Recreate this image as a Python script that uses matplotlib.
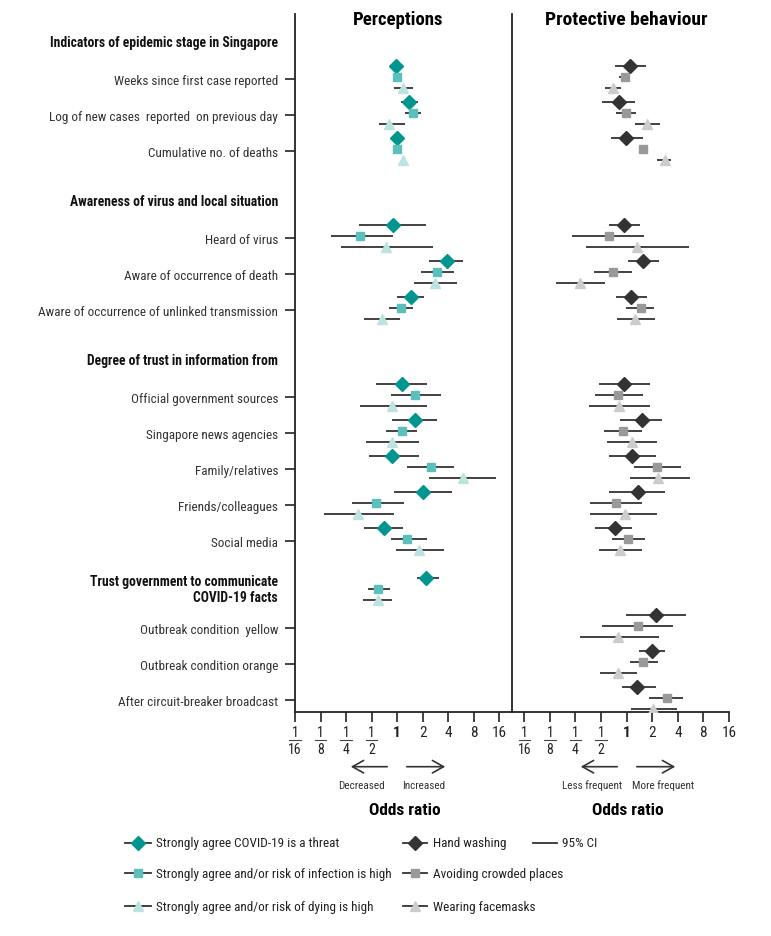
import numpy as np
import matplotlib
matplotlib.use("Agg")
import matplotlib.pyplot as plt
import matplotlib.transforms as mtransforms

plt.rcParams['font.family'] = ['Roboto Condensed', 'Liberation Sans', 'DejaVu Sans']

# ---- rows (header rows have no estimates) ----
rows = [
    ("h", "Indicators of epidemic stage in Singapore"),
    ("i", "Weeks since first case reported"),
    ("i", "Log of new cases  reported  on previous day"),
    ("i", "Cumulative no. of deaths"),
    ("h", "Awareness of virus and local situation"),
    ("i", "Heard of virus"),
    ("i", "Aware of occurrence of death"),
    ("i", "Aware of occurrence of unlinked transmission"),
    ("h", "Degree of trust in information from"),
    ("i", "Official government sources"),
    ("i", "Singapore news agencies"),
    ("i", "Family/relatives"),
    ("i", "Friends/colleagues"),
    ("i", "Social media"),
    ("hi", "Trust government to communicate\nCOVID-19 facts"),
    ("i", "Outbreak condition  yellow"),
    ("i", "Outbreak condition orange"),
    ("i", "After circuit-breaker broadcast"),
]

# ---- Perceptions (odds ratio, lower, upper); None = not estimated ----
# item order: weeks, log new, cum deaths, heard, death, unlinked,
#             official, news, family, friends, social, trust govt, yellow, orange, after CB
threat_or = [0.97, 1.37, 1.01, 0.89, 3.86, 1.44, 1.14, 1.61, 0.88, 2.03, 0.70, 2.20, None, None, None]
threat_lo = [0.83, 1.10, 0.95, 0.36, 2.36, 1.01, 0.56, 0.88, 0.47, 0.92, 0.41, 1.71, None, None, None]
threat_hi = [1.12, 1.77, 1.07, 2.19, 6.06, 2.07, 2.25, 2.93, 1.79, 4.38, 1.17, 3.12, None, None, None]

infect_or = [1.00, 1.55, 0.99, 0.37, 2.95, 1.10, 1.62, 1.13, 2.48, 0.57, 1.30, 0.60, None, None, None]
infect_lo = [0.95, 1.23, 0.94, 0.165, 1.92, 0.81, 0.84, 0.73, 1.30, 0.29, 0.84, 0.45, None, None, None]
infect_hi = [1.05, 1.93, 1.04, 0.90, 4.63, 1.53, 3.25, 1.72, 4.69, 1.22, 2.27, 0.82, None, None, None]

dying_or = [1.17, 0.81, 1.16, 0.73, 2.79, 0.66, 0.87, 0.87, 6.06, 0.35, 1.82, 0.60, None, None, None]
dying_lo = [0.91, 0.61, 1.10, 0.22, 1.60, 0.41, 0.37, 0.43, 2.38, 0.136, 0.97, 0.40, None, None, None]
dying_hi = [1.55, 1.25, 1.22, 2.66, 5.06, 1.07, 2.23, 1.83, 14.8, 0.91, 3.58, 0.88, None, None, None]

# ---- Protective behaviour ----
hand_or = [1.10, 0.81, 0.99, 0.94, 1.57, 1.13, 0.93, 1.53, 1.16, 1.36, 0.72, None, 2.20, 1.97, 1.32]
hand_lo = [0.72, 0.52, 0.65, 0.62, 1.03, 0.74, 0.47, 0.83, 0.62, 0.62, 0.43, None, 0.99, 1.39, 0.88]
hand_hi = [1.68, 1.24, 1.54, 1.44, 2.41, 1.72, 1.89, 2.62, 2.19, 2.79, 1.16, None, 5.06, 2.79, 2.19]

crowd_or = [0.95, 0.97, 1.54, 0.62, 0.70, 1.46, 0.80, 0.91, 2.27, 0.75, 1.04, None, 1.35, 1.54, 2.97]
crowd_lo = [0.81, 0.74, 1.39, 0.23, 0.41, 0.97, 0.43, 0.54, 1.22, 0.37, 0.68, None, 0.52, 1.09, 1.83]
crowd_hi = [1.09, 1.28, 1.72, 1.58, 1.17, 2.10, 1.57, 1.53, 4.38, 1.52, 1.64, None, 3.53, 2.31, 4.56]

mask_or = [0.69, 1.73, 2.79, 1.32, 0.285, 1.27, 0.81, 1.16, 2.36, 0.95, 0.84, None, 0.79, 0.80, 2.06]
mask_lo = [0.56, 1.24, 2.30, 0.33, 0.148, 0.78, 0.36, 0.58, 1.09, 0.37, 0.47, None, 0.28, 0.49, 1.13]
mask_hi = [0.85, 2.46, 3.29, 5.46, 0.55, 2.17, 1.89, 2.27, 5.54, 2.27, 1.53, None, 2.38, 1.33, 3.86]

perc_labels = ["Strongly agree COVID-19 is a threat",
               "Strongly agree and/or risk of infection is high",
               "Strongly agree and/or risk of dying is high"]
behav_labels = ["Hand washing", "Avoiding crowded places", "Wearing facemasks"]

teal = ["#00968f", "#5bbfbc", "#bde3e0"]
greys = ["#333333", "#999999", "#cccccc"]
markers = ["D", "s", "^"]
msizes = [7, 6, 7.5]
offsets = [-0.31, 0.0, 0.30]

tick_vals = [1/16, 1/8, 1/4, 1/2, 1, 2, 4, 8, 16]
tick_num = ["1", "1", "1", "1", "1", "2", "4", "8", "16"]
tick_den = ["16", "8", "4", "2", None, None, None, None, None]

W, H = 771, 937
fig = plt.figure(figsize=(W / 100, H / 100), dpi=100)

# ---- vertical layout of rows (row units, 36 px each) ----
ypos = []
y = -0.9
for n, (kind, _) in enumerate(rows):
    if kind == "h":
        if n > 0:
            y += 0.45
        ypos.append(y)
        y += 0.97
    elif kind == "hi":
        y += 0.39
        ypos.append(y)
        y += 1.02
    else:
        ypos.append(y)
        y += 1.0
item_y = [ypos[i] for i, (k, _) in enumerate(rows) if k in ("i", "hi")]

top_px, bot_px = 15, 713
ylim = ((bot_px - 75.5) / 36, (top_px - 75.5) / 36)

axl = fig.add_axes([295 / W, (H - bot_px) / H, 217 / W, (bot_px - top_px) / H])
axr = fig.add_axes([512 / W, (H - bot_px) / H, 217 / W, (bot_px - top_px) / H])

series_l = [(threat_or, threat_lo, threat_hi), (infect_or, infect_lo, infect_hi),
            (dying_or, dying_lo, dying_hi)]
series_r = [(hand_or, hand_lo, hand_hi), (crowd_or, crowd_lo, crowd_hi),
            (mask_or, mask_lo, mask_hi)]

for ax, series, cols in ((axl, series_l, teal), (axr, series_r, greys)):
    ax.set_xscale("log", base=2)
    for k, (orv, lo, hi) in enumerate(series):
        for j, yy in enumerate(item_y):
            if orv[j] is None:
                continue
            yk = yy + offsets[k]
            ax.plot([lo[j], hi[j]], [yk, yk], color="#333333", lw=1.3, zorder=2,
                    solid_capstyle="butt")
            ax.plot(orv[j], yk, marker=markers[k], ms=msizes[k], color=cols[k],
                    mec=cols[k], ls="none", zorder=3)
    ax.set_xticks(tick_vals)
    ax.set_xticklabels([])
    ax.minorticks_off()
    ax.tick_params(axis="x", length=7, width=1.2, color="#222222")
    for s in ("top", "right"):
        ax.spines[s].set_visible(False)
    for s in ("left", "bottom"):
        ax.spines[s].set_linewidth(1.3)
        ax.spines[s].set_color("#222222")
    num_tr = mtransforms.offset_copy(ax.get_xaxis_transform(), fig=fig, y=-14.5, units="points")
    bar_tr = mtransforms.offset_copy(ax.get_xaxis_transform(), fig=fig, y=-20.3, units="points")
    den_tr = mtransforms.offset_copy(ax.get_xaxis_transform(), fig=fig, y=-26.8, units="points")
    for v, n, d in zip(tick_vals, tick_num, tick_den):
        bold = "bold" if v == 1 else "normal"
        ax.text(v, 0, n, transform=num_tr, ha="center", va="center",
                fontsize=11 if d is None else 10, fontweight=bold, color="#222222")
        if d is not None:
            ax.text(v, 0, d, transform=den_tr, ha="center", va="center",
                    fontsize=10, color="#222222")
            ax.plot([v * 2 ** -0.22, v * 2 ** 0.22], [0, 0], transform=bar_tr,
                    color="#444444", lw=0.8, clip_on=False)

axl.set_xlim(1 / 16, 2 ** 4.5)
axr.set_xlim(2 ** -4.48, 16)

# y ticks only on the left panel, one per item
tick_rows = [ypos[i] + 0.06 for i, (k, _) in enumerate(rows) if k == "i"]
axl.set_yticks(tick_rows)
axl.set_yticklabels([lab for k, lab in rows if k == "i"], fontsize=9.5, color="#333333")
axl.tick_params(axis="y", length=7, width=1.2, pad=5, color="#222222")
axr.set_yticks([])
axl.set_ylim(*ylim)
axr.set_ylim(*ylim)

# section headers, right-aligned with the row labels
for (k, lab), yy in zip(rows, ypos):
    if k in ("h", "hi"):
        axl.annotate(lab, (278 / W, yy), xycoords=("figure fraction", "data"),
                     ha="right", va="center", ma="right", fontsize=9.8,
                     fontweight="bold", color="#111111", linespacing=1.15)

# overlay in pixel coordinates for titles, arrows, legend
ov = fig.add_axes([0, 0, 1, 1])
ov.set_xlim(0, W)
ov.set_ylim(H, 0)
ov.axis("off")

ov.text(398, 20, "Perceptions", ha="center", va="center", fontsize=13.5, fontweight="bold")
ov.text(626, 20, "Protective behaviour", ha="center", va="center", fontsize=14,
        fontweight="bold")

arrow_kw = dict(arrowstyle="->,head_length=0.8,head_width=0.45", lw=1.2, color="#333333")
for (x0, x1) in ((390, 348), (404, 448), (620, 578), (634, 678)):
    ov.annotate("", xy=(x1, 767.7), xytext=(x0, 767.7), arrowprops=arrow_kw)
for x, t in ((361.7, "Decreased"), (423.3, "Increased"), (591.7, "Less frequent"),
             (663.3, "More frequent")):
    ov.text(x, 786, t, ha="center", va="center", fontsize=8, color="#333333")
for x in (405, 628.3):
    ov.text(x, 811, "Odds ratio", ha="center", va="center", fontsize=12.5,
            fontweight="bold")

leg_y = [844, 874.3, 907.3]
for k in range(3):
    yy = leg_y[k]
    ov.plot([125, 151], [yy, yy], color="#333333", lw=1.3)
    ov.plot(138, yy, marker=markers[k], ms=msizes[k], color=teal[k], ls="none")
    ov.text(155.7, yy, perc_labels[k], ha="left", va="center", fontsize=9.5,
            color="#222222")
    ov.plot([403, 427], [yy, yy], color="#333333", lw=1.3)
    ov.plot(415, yy, marker=markers[k], ms=msizes[k], color=greys[k], ls="none")
    ov.text(433.3, yy, behav_labels[k], ha="left", va="center", fontsize=9.5,
            color="#222222")
ov.plot([533, 557], [leg_y[0], leg_y[0]], color="#333333", lw=1.3)
ov.text(561.7, leg_y[0], "95% CI", ha="left", va="center", fontsize=9.5, color="#222222")

fig.savefig("out.png", dpi=100, facecolor="white")
